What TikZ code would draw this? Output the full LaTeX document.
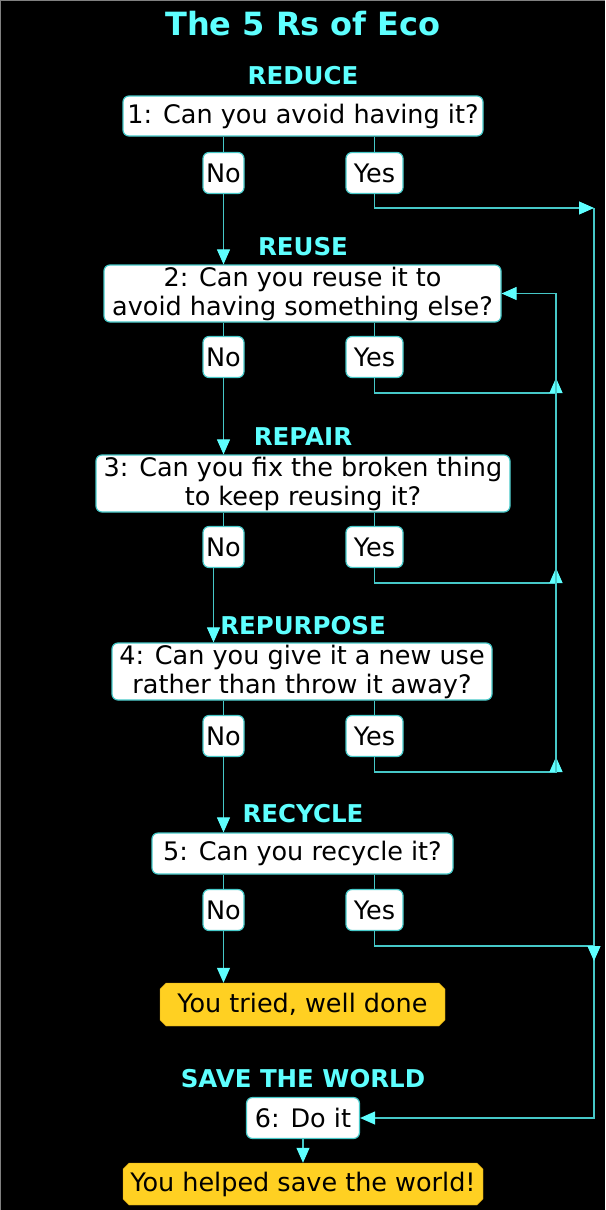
\documentclass[tikz,border=0pt]{standalone}
\usepackage{fontspec}
\setmainfont{DejaVu Sans}
\usetikzlibrary{positioning,arrows.meta,shapes.misc}
\definecolor{ecocyan}{HTML}{5EFFFF}
\definecolor{ecoline}{HTML}{46C8C8}
\definecolor{ecogold}{HTML}{FFD022}
\definecolor{ecogoldedge}{HTML}{C89A10}
\newcommand{\boxfont}{\fontsize{25.5}{29}\selectfont}

\begin{document}
\begin{tikzpicture}[x=1pt, y=-1pt,
  qbox/.style={draw=ecoline, line width=1.2pt, fill=white, rounded corners=6pt,
               align=center, font=\boxfont, inner sep=0pt},
  endbox/.style={chamfered rectangle, chamfered rectangle xsep=3pt,
               chamfered rectangle ysep=3pt, draw=ecogoldedge, fill=ecogold,
               font=\boxfont, inner sep=0pt},
  stage/.style={text=ecocyan, font=\bfseries\fontsize{24.5}{29}\selectfont},
  link/.style={ecoline, line width=1.1pt},
  arr/.style={link, -{Triangle[length=15pt, width=13pt, color=ecocyan]}}
]
  \useasboundingbox (0,0) rectangle (605,1210);
  \fill[black] (0,0) rectangle (605,1210);
  \draw[gray, line width=2pt] (0,1210) -- (0,0) -- (605,0);

  \node[text=ecocyan, font=\bfseries\fontsize{32}{36}\selectfont] (title) at (303,24)
    {The 5 Rs of Eco};

  % questions
  \node[stage] (lreduce) at (303,76) {REDUCE};
  \node[qbox, minimum width=360pt, minimum height=40pt] (q1) at (303,116)
    {1: Can you avoid having it?};
  \node[stage] (lreuse) at (303,247) {REUSE};
  \node[qbox, minimum width=397pt, minimum height=57pt] (q2) at (302.5,293.5)
    {2: Can you reuse it to\\avoid having something else?};
  \node[stage] (lrepair) at (303,437) {REPAIR};
  \node[qbox, minimum width=414pt, minimum height=57pt] (q3) at (303,483.5)
    {3: Can you fix the broken thing\\to keep reusing it?};
  \node[stage] (lrepurpose) at (303,626) {REPURPOSE};
  \node[qbox, minimum width=380pt, minimum height=57pt] (q4) at (302,671.5)
    {4: Can you give it a new use\\rather than throw it away?};
  \node[stage] (lrecycle) at (303,814) {RECYCLE};
  \node[qbox, minimum width=301pt, minimum height=41pt] (q5) at (302.5,853.5)
    {5: Can you recycle it?};
  \node[endbox, minimum width=285pt, minimum height=43pt] (tried) at (302.5,1004.5)
    {You tried, well done};
  \node[stage] (lsave) at (303,1079) {SAVE THE WORLD};
  \node[qbox, minimum width=113pt, minimum height=41pt] (q6) at (303,1118)
    {6: Do it};
  \node[endbox, minimum width=360pt, minimum height=42pt] (saved) at (303,1184)
    {You helped save the world!};

  % answers
  \foreach \i/\y in {1/173, 2/357, 3/547, 4/736, 5/910} {
    \node[qbox, minimum width=41pt, minimum height=41pt] (no\i) at (223.5,\y) {No};
    \node[qbox, minimum width=57pt, minimum height=41pt] (yes\i) at (374.5,\y) {Yes};
    \draw[link] (no\i.north |- q\i.south) -- (no\i.north);
    \draw[link] (yes\i.north |- q\i.south) -- (yes\i.north);
  }

  % rails
  \coordinate (rtop) at (594,208);
  \coordinate (rlow) at (594,946);
  \coordinate (lt2) at (556,393);
  \coordinate (lt3) at (556,583);
  \coordinate (lt4) at (556,772);

  \draw[arr] (no1.south) -- (no1.south |- q2.north);
  \draw[arr] (no2.south) -- (no2.south |- q3.north);
  \draw[arr] ([xshift=-10pt]no3.south) -- ([xshift=-10pt]no3.south |- q4.north);
  \draw[arr] (no4.south) -- (no4.south |- q5.north);
  \draw[arr] (no5.south) -- (no5.south |- tried.north);

  \draw[arr] (yes1.south) |- (rtop);
  \draw[arr] (rtop) |- (q6.east);
  \draw[arr] (yes2.south) |- (lt2) -- ++(0,-15);
  \draw[arr] (yes3.south) |- (lt3) -- ++(0,-15);
  \draw[arr] (yes4.south) |- (lt4) -- ++(0,-15);
  \draw[arr] (lt4) |- (q2.east);
  \draw[arr] (yes5.south) |- (rlow) -- ++(0,15);

  \draw[arr] (q6.south) -- (saved.north);
\end{tikzpicture}
\end{document}
